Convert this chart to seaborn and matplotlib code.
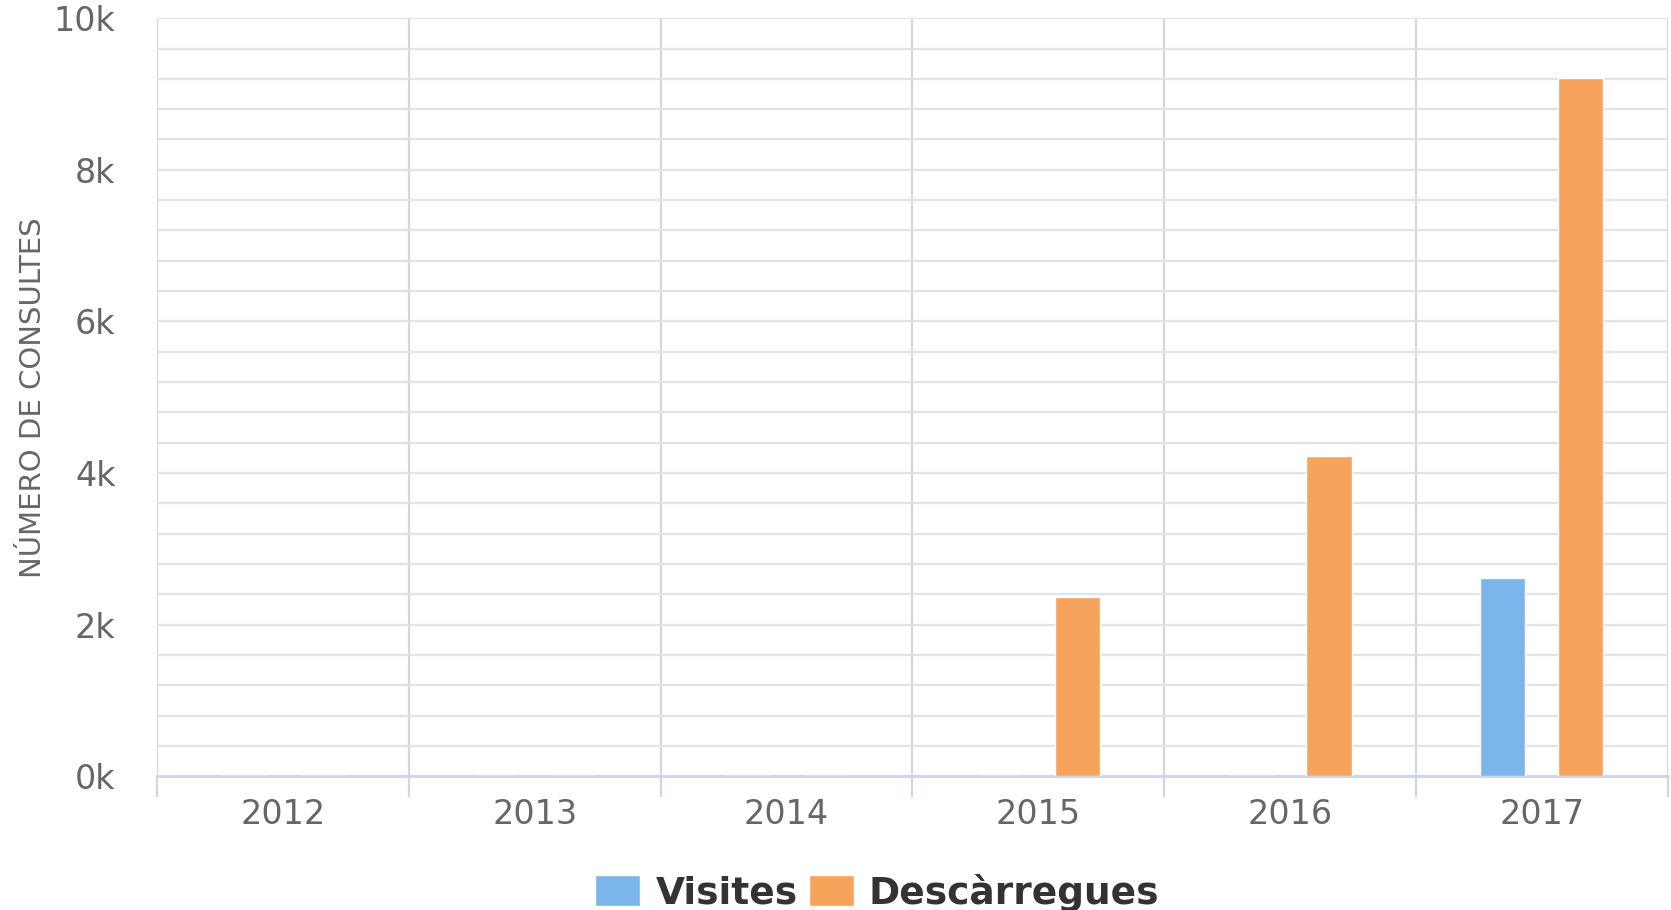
import pandas as pd
import matplotlib
matplotlib.use("Agg")
import matplotlib.pyplot as plt
import matplotlib.ticker as mticker
import seaborn as sns

# data
years = ["2012", "2013", "2014", "2015", "2016", "2017"]
visites = [0, 0, 0, 0, 0, 2620]
descarregues = [0, 0, 0, 2370, 4220, 9210]
series_names = ["Visites", "Descàrregues"]
colors = ["#7cb5ec", "#f7a35c"]

df = pd.DataFrame({
    "year": years * 2,
    "value": visites + descarregues,
    "serie": [series_names[0]] * len(years) + [series_names[1]] * len(years),
})

sns.set_theme(style="white")
plt.rcParams["font.family"] = ["DejaVu Sans"]

fig = plt.figure(figsize=(16.71, 9.10), dpi=100)
ax = fig.add_axes([0.094, 0.147, 0.904, 0.833])

sns.barplot(data=df, x="year", y="value", hue="serie", palette=colors,
            width=0.62, gap=0.42, saturation=1, ax=ax, legend=True, zorder=3)

ax.set_xlim(-0.5, 5.5)
ax.set_ylim(0, 10000)

grid_c = "#e3e3e3"
axis_c = "#ccd6eb"

# y axis: major every 2k, minor every 400
ax.yaxis.set_major_locator(mticker.MultipleLocator(2000))
ax.yaxis.set_minor_locator(mticker.MultipleLocator(400))
ax.yaxis.set_major_formatter(mticker.FuncFormatter(lambda v, p: f"{int(round(v / 1000))}k"))
ax.grid(axis="y", which="both", color=grid_c, linewidth=1.6, zorder=0)

# x axis: labels at centers, grid/ticks at category boundaries
ax.xaxis.set_minor_locator(mticker.FixedLocator([i - 0.5 for i in range(len(years) + 1)]))
ax.grid(axis="x", which="minor", color="#d6d6d6", linewidth=1.6, zorder=0)
ax.tick_params(axis="x", which="major", bottom=False, pad=10, labelsize=24, labelcolor="#666666")
ax.tick_params(axis="x", which="minor", bottom=True, length=15, width=1.6, color=axis_c, direction="out")
ax.tick_params(axis="y", which="both", left=False, pad=24, labelsize=24, labelcolor="#666666")

for s in ["top", "right", "left"]:
    ax.spines[s].set_visible(False)
ax.spines["bottom"].set_color(axis_c)
ax.spines["bottom"].set_linewidth(2)
ax.set_axisbelow(True)

ax.set_xlabel("")
ax.set_ylabel("NÚMERO DE CONSULTES", fontsize=21, color="#666666")
ax.yaxis.set_label_coords(-0.073, 0.5)

leg = ax.legend(loc="upper center", bbox_to_anchor=(0.525, 0.04),
                bbox_transform=fig.transFigure, ncol=2, frameon=False,
                prop={"size": 27, "weight": "bold"},
                handlelength=1.2, handleheight=0.9, handletextpad=0.4,
                columnspacing=0.3, borderaxespad=0, borderpad=0)
for t in leg.get_texts():
    t.set_color("#333333")

fig.savefig("out.png", dpi=100)
